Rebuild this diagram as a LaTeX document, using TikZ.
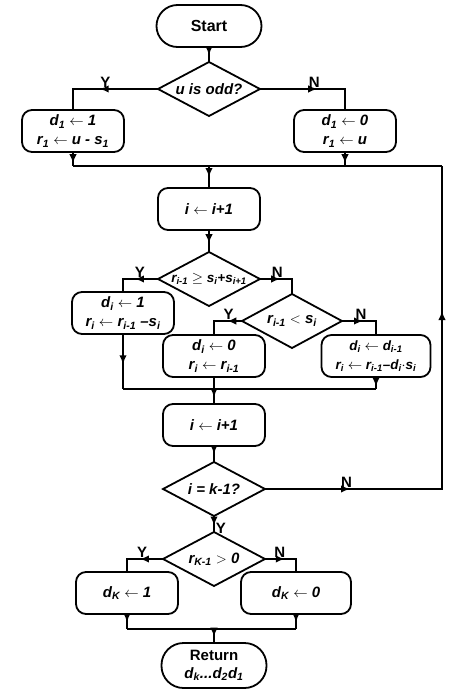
\documentclass[tikz,border=0pt]{standalone}
\usepackage{fontspec}
\setmainfont{Liberation Sans}
\usetikzlibrary{shapes.geometric,arrows.meta,positioning,decorations.markings}
\newcommand{\ix}[1]{\textsubscript{#1}}
\tikzset{terminal/.style={rectangle, draw, line width=1.8pt, outer sep=0pt, rounded corners=21pt, minimum width=105pt,
 minimum height=42pt, align=center, font=\fontsize{16}{19}\selectfont\bfseries}}
\tikzset{process/.style={rectangle, draw, line width=1.8pt, outer sep=0pt, rounded corners=10pt, minimum width=102pt,
 minimum height=42pt, align=center, font=\fontsize{15}{19}\selectfont\bfseries\itshape}}
\tikzset{decision/.style={diamond, draw, line width=1.8pt, outer sep=0pt, aspect=1.89, minimum width=102pt,
 minimum height=54pt, inner sep=0pt, align=center, font=\fontsize{15}{17}\selectfont\bfseries\itshape}}
\tikzset{yn/.style={font=\fontsize{15}{17}\selectfont\bfseries, inner sep=1pt}}
\tikzset{line/.style={draw, line width=1.8pt}}
\tikzset{arr/.style={postaction={decorate}, decoration={markings,
 mark=at position #1 with {\arrow{Latex[length=9pt,width=7.5pt]}}}}}
\begin{document}
\begin{tikzpicture}
        \useasboundingbox (0,0) rectangle (474pt,-694pt);
        \node[terminal] (start) at (209pt,-26pt) {Start};
        \node[decision, below=15pt of start] (odd) {u is odd?};
        \node[process] (set1) at ([shift={(-136pt,-42pt)}]odd) {d\ix{1} $\leftarrow$ 1\\ r\ix{1} $\leftarrow$ u - s\ix{1}};
        \node[process] (set0) at ([shift={(136pt,-42pt)}]odd) {d\ix{1} $\leftarrow$ 0\\ r\ix{1} $\leftarrow$ u};
        \node[process, below=72pt of odd] (inc1) {i $\leftarrow$ i+1};
        \node[decision, below=22pt of inc1, font=\fontsize{13.5}{15}\selectfont\bfseries\itshape] (ge) {r\ix{i-1} $\geq$ s\ix{i}+s\ix{i+1}};
        \node[process] (one) at ([shift={(-86pt,-34pt)}]ge) {d\ix{i} $\leftarrow$ 1\\ r\ix{i} $\leftarrow$ r\ix{i-1} --s\ix{i}};
        \node[decision, minimum width=100pt] (lt) at ([shift={(83pt,-42pt)}]ge) {r\ix{i-1} $<$ s\ix{i}};
        \node[process] (zero) at ([shift={(-78pt,-35pt)}]lt) {d\ix{i} $\leftarrow$ 0\\ r\ix{i} $\leftarrow$ r\ix{i-1}};
        \node[process, minimum width=109pt, font=\fontsize{13.5}{19}\selectfont\bfseries\itshape] (keep) at ([shift={(84pt,-35pt)}]lt) {d\ix{i} $\leftarrow$ d\ix{i-1}\\ r\ix{i} $\leftarrow$ r\ix{i-1}--d\ix{i}$\cdot$s\ix{i}};
        \node[process, below=27pt of zero] (inc2) {i $\leftarrow$ i+1};
        \node[decision, below=16pt of inc2] (last) {i = k-1?};
        \node[decision, below=16pt of last] (pos) {r\ix{K-1} $>$ 0};
        \node[process] (dk1) at ([shift={(-87pt,-34pt)}]pos) {d\ix{K} $\leftarrow$ 1};
        \node[process, minimum width=110pt] (dk0) at ([shift={(82pt,-34pt)}]pos) {d\ix{K} $\leftarrow$ 0};
        \node[terminal, minimum height=45pt, inner ysep=1pt, rounded corners=22pt, font=\fontsize{15}{18}\selectfont\bfseries,
          below=57pt of pos] (ret) {Return\\ \itshape d\ix{k}...d\ix{2}d\ix{1}};

        % junctions
        \coordinate (j1) at ([yshift=-50pt]odd.south);
        \coordinate (loop) at ([xshift=233pt]j1);
        \coordinate (j2) at ([yshift=-12pt]zero.south);
        \coordinate (j3) at ([yshift=-15pt]dk1.south -| pos);

        \path[line, arr=0.55] (start) -- (odd);
        \path[line, arr=0.55] (odd.west) -| node[yn, above, pos=0.31]{Y} (set1.north);
        \path[line, arr=0.54] (odd.east) -| node[yn, above, pos=0.32]{N} (set0.north);
        \path[line, arr=0.8] (set1.south) -- (set1.south |- j1);
        \path[line, arr=0.8] (set0.south) -- (set0.south |- j1);
        \path[line] (set1.south |- j1) -- (loop);
        \path[line, arr=0.5] (j1) -- (inc1);
        \path[line, arr=0.6] (inc1) -- (ge);

        \path[line, arr=0.48] (ge.west) -| node[yn, above, pos=0.26]{Y} (one.north);
        \path[line, arr=0.43] (ge.east) -| node[yn, above, pos=0.27]{N} (lt.north);
        \path[line, arr=0.35] (lt.west) -| node[yn, above, pos=0.24]{Y} (zero.north);
        \path[line, arr=0.44] (lt.east) -| node[yn, above, pos=0.28]{N} (keep.north);
        \path[line, arr=0.55] (one.south) -- (one.south |- j2);
        \path[line] (zero.south) -- (j2);
        \path[line, arr=0.8] (keep.south) -- (keep.south |- j2);
        \path[line] (one.south |- j2) -- (keep.south |- j2);
        \path[line, arr=0.55] (j2) -- (inc2);
        \path[line, arr=0.5] (inc2) -- (last);

        % back to the loop
        \path[line, postaction={decorate}, decoration={markings,
          mark=at position 0.17 with {\arrow{Latex[length=9pt,width=7.5pt]}},
          mark=at position 0.71 with {\arrow{Latex[length=9pt,width=7.5pt]}}}]
          (last.east) -| node[yn, above, pos=0.23]{N} (loop);
        \path[line, arr=0.6] (last.south) -- node[yn, right, pos=0.75]{Y} (pos.north);

        \path[line, arr=0.47] (pos.west) -| node[yn, above, pos=0.29]{Y} (dk1.north);
        \path[line, arr=0.45] (pos.east) -| node[yn, above, pos=0.24]{N} (dk0.north);
        \path[line, arr=0.55] (dk1.south) -- (dk1.south |- j3);
        \path[line, arr=0.55] (dk0.south) -- (dk0.south |- j3);
        \path[line] (dk1.south |- j3) -- (dk0.south |- j3);
        \path[line, arr=0.55] (j3) -- (ret);
\end{tikzpicture}
\end{document}
